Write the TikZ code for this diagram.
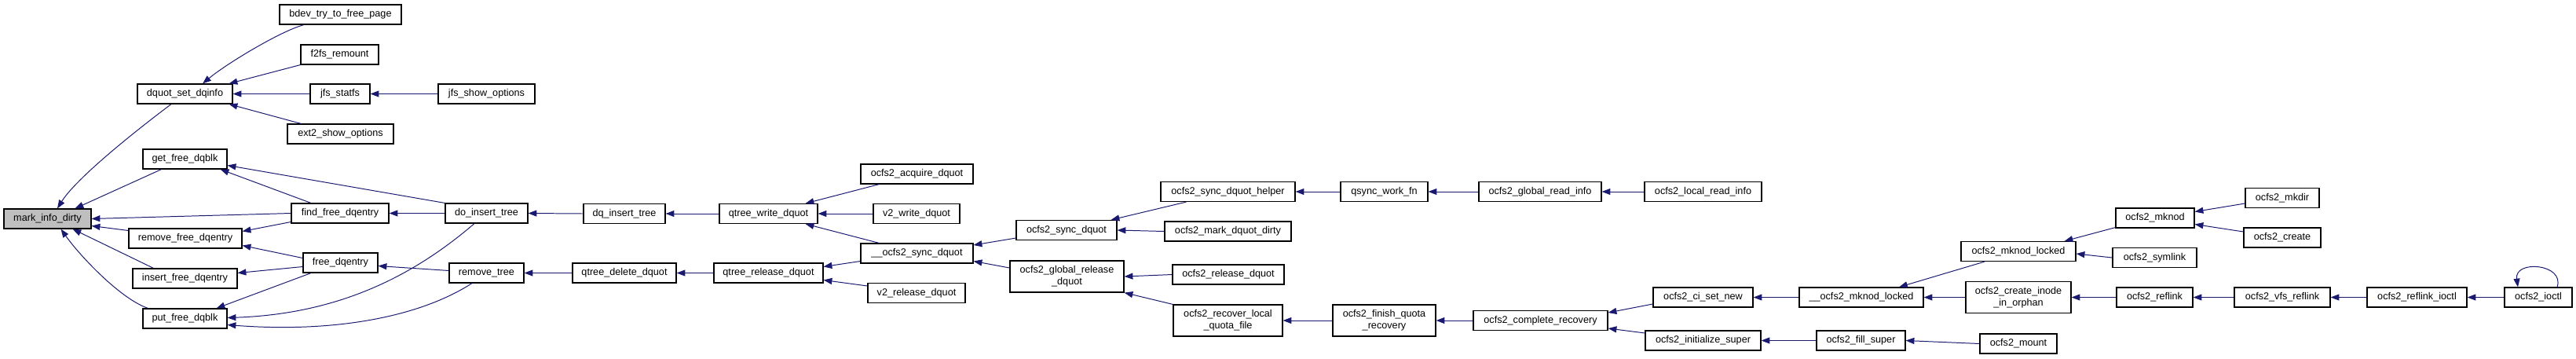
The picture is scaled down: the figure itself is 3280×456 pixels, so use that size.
\documentclass[tikz,border=0pt]{standalone}
\usepackage{fontspec}
\setmainfont{Liberation Sans}
\usepackage{tikz}
\usetikzlibrary{arrows.meta}
\usepackage{xcolor}
\definecolor{edgeblue}{HTML}{191970}
\definecolor{rootgray}{HTML}{BFBFBF}

\begin{document}
\begin{tikzpicture}[x=0.025cm, y=-0.025cm,
  fn/.style={draw=black, fill=white, line width=0.8pt, inner sep=0pt, minimum height=0.625cm, align=center, font=\fontsize{9}{10.6}\selectfont},
  twoline/.style={minimum height=1cm},
  calls/.style={draw=edgeblue, line width=0.7pt, {Triangle[length=0.27cm,width=0.2cm]}-}]
  \useasboundingbox (0,0) rectangle (3280,456);

  % columns, left to right
  \node[fn, fill=rootgray, minimum width=2.775cm] (mark) at (60.5,278.5) {mark\_info\_dirty};

  \node[fn, minimum width=3.025cm] (dqinfo) at (235.5,119.5) {dquot\_set\_dqinfo};
  \node[fn, minimum width=2.675cm] (getblk) at (235.5,202.5) {get\_free\_dqblk};
  \node[fn, minimum width=3.6cm] (rmfree) at (236,303.5) {remove\_free\_dqentry};
  \node[fn, minimum width=3.325cm] (insfree) at (235.5,354.5) {insert\_free\_dqentry};
  \node[fn, minimum width=2.675cm] (putblk) at (235.5,405.5) {put\_free\_dqblk};

  \node[fn, minimum width=3.875cm] (bdev) at (433.5,18.5) {bdev\_try\_to\_free\_page};
  \node[fn, minimum width=2.475cm] (f2fs) at (432.5,69.5) {f2fs\_remount};
  \node[fn, minimum width=1.9cm] (jfsstatfs) at (433,119.5) {jfs\_statfs};
  \node[fn, minimum width=3.375cm] (ext2) at (433.5,170.5) {ext2\_show\_options};
  \node[fn, minimum width=3.1cm] (findfree) at (433,271.5) {find\_free\_dqentry};
  \node[fn, minimum width=2.375cm] (freedq) at (433.5,334.5) {free\_dqentry};

  \node[fn, minimum width=3.075cm] (jfsshow) at (619.5,119.5) {jfs\_show\_options};
  \node[fn, minimum width=2.625cm] (doins) at (619.5,271.5) {do\_insert\_tree};
  \node[fn, minimum width=2.375cm] (rmtree) at (619.5,347.5) {remove\_tree};

  \node[fn, minimum width=2.6cm] (dqins) at (795,272) {dq\_insert\_tree};
  \node[fn, minimum width=3.3cm] (qdel) at (795,347.5) {qtree\_delete\_dquot};

  \node[fn, minimum width=3.125cm] (qwrite) at (978.5,272) {qtree\_write\_dquot};
  \node[fn, minimum width=3.475cm] (qrel) at (978.5,347.5) {qtree\_release\_dquot};

  \node[fn, minimum width=3.575cm] (acquire) at (1167.5,221.5) {ocfs2\_acquire\_dquot};
  \node[fn, minimum width=2.75cm] (v2write) at (1167,272) {v2\_write\_dquot};
  \node[fn, minimum width=3.575cm] (osyncu) at (1167.5,322.5) {\_\_ocfs2\_sync\_dquot};
  \node[fn, minimum width=3.1cm] (v2rel) at (1167,373) {v2\_release\_dquot};

  \node[fn, minimum width=3.2cm] (osync) at (1358,293) {ocfs2\_sync\_dquot};
  \node[fn, twoline, minimum width=3.625cm] (globrel) at (1358.5,352) {ocfs2\_global\_release\\\_dquot};

  \node[fn, minimum width=4.275cm] (helper) at (1563.5,244) {ocfs2\_sync\_dquot\_helper};
  \node[fn, minimum width=4.025cm] (markdirty) at (1563.5,294.5) {ocfs2\_mark\_dquot\_dirty};
  \node[fn, minimum width=3.55cm] (releasedq) at (1564,349.5) {ocfs2\_release\_dquot};
  \node[fn, twoline, minimum width=3.475cm] (recover) at (1563.5,408) {ocfs2\_recover\_local\\\_quota\_file};

  \node[fn, minimum width=2.775cm] (qsync) at (1762.5,244) {qsync\_work\_fn};
  \node[fn, twoline, minimum width=3.275cm] (finish) at (1762.5,408) {ocfs2\_finish\_quota\\\_recovery};

  \node[fn, minimum width=3.9cm] (globread) at (1961,244) {ocfs2\_global\_read\_info};
  \node[fn, minimum width=4.275cm] (complete) at (1961.5,408) {ocfs2\_complete\_recovery};

  \node[fn, minimum width=3.725cm] (localread) at (2168.5,244) {ocfs2\_local\_read\_info};
  \node[fn, minimum width=3.175cm] (cisetnew) at (2168.5,378.5) {ocfs2\_ci\_set\_new};
  \node[fn, minimum width=3.675cm] (initsuper) at (2168.5,433.5) {ocfs2\_initialize\_super};

  \node[fn, minimum width=3.95cm] (mknodlu) at (2370,378.5) {\_\_ocfs2\_mknod\_locked};
  \node[fn, minimum width=2.825cm] (fillsuper) at (2369.5,433.5) {ocfs2\_fill\_super};

  \node[fn, minimum width=3.65cm] (mknodlocked) at (2570,320) {ocfs2\_mknod\_locked};
  \node[fn, twoline, minimum width=3.35cm] (orphan) at (2570,378.5) {ocfs2\_create\_inode\\\_in\_orphan};
  \node[fn, minimum width=2.45cm] (mount) at (2570,437.5) {ocfs2\_mount};

  \node[fn, minimum width=2.5cm] (mknod) at (2744,277.5) {ocfs2\_mknod};
  \node[fn, minimum width=2.675cm] (symlink) at (2743.5,328) {ocfs2\_symlink};
  \node[fn, minimum width=2.425cm] (reflink) at (2743.5,378.5) {ocfs2\_reflink};

  \node[fn, minimum width=2.35cm] (mkdir) at (2906,252) {ocfs2\_mkdir};
  \node[fn, minimum width=2.45cm] (create) at (2906,302.5) {ocfs2\_create};
  \node[fn, minimum width=3.05cm] (vfsreflink) at (2906,378.5) {ocfs2\_vfs\_reflink};

  \node[fn, minimum width=3.175cm] (reflinkioctl) at (3077.5,378.5) {ocfs2\_reflink\_ioctl};
  \node[fn, minimum width=2.15cm] (ioctl) at (3232,378.5) {ocfs2\_ioctl};

  % callers of mark_info_dirty
  \draw[calls] ([shift={(12.5,0)}]mark.north) .. controls +(25,-40) and +(-40,30) .. ([shift={(-17.5,0)}]dqinfo.south);
  \draw[calls] ([shift={(35,0)}]mark.north) -- ([shift={(-30,0)}]getblk.south);
  \draw[calls] (mark.east) -- (findfree.west);
  \draw[calls] ([shift={(0,9)}]mark.east) -- ([shift={(0,-10)}]rmfree.west);
  \draw[calls] ([shift={(32,0)}]mark.south) -- ([shift={(-40,0)}]insfree.north);
  \draw[calls] ([shift={(17,0)}]mark.south) .. controls +(25,35) and +(-35,-12) .. ([shift={(-47,0)}]putblk.north);

  \draw[calls] ([shift={(22.5,0)}]dqinfo.north) .. controls +(30,-25) and +(-30,8) .. ([shift={(-46.5,0)}]bdev.south);
  \draw[calls] ([shift={(-5,0)}]dqinfo.north east) -- (f2fs.south west);
  \draw[calls] (dqinfo.east) -- (jfsstatfs.west);
  \draw[calls] ([shift={(-5,0)}]dqinfo.south east) -- ([shift={(18,0)}]ext2.north west);
  \draw[calls] (jfsstatfs.east) -- (jfsshow.west);

  \draw[calls] ([shift={(0,8)}]getblk.east) -- (doins.north west);
  \draw[calls] ([shift={(-9,0)}]getblk.south east) -- ([shift={(-37,0)}]findfree.north);
  \draw[calls] ([shift={(0,-9)}]rmfree.east) -- ([shift={(0,11)}]findfree.west);
  \draw[calls] ([shift={(0,9)}]rmfree.east) -- ([shift={(0,-6)}]freedq.west);
  \draw[calls] ([shift={(0,-7)}]insfree.east) -- ([shift={(0,5)}]freedq.west);
  \draw[calls] ([shift={(-14,0)}]putblk.north east) -- ([shift={(-37.5,0)}]freedq.south);
  \draw[calls] ([shift={(0,-1)}]putblk.east) .. controls +(150,-5) and +(-70,60) .. ([shift={(-15.5,0)}]doins.south);
  \draw[calls] ([shift={(0,8)}]putblk.east) .. controls +(130,10) and +(-70,45) .. ([shift={(-18.5,0)}]rmtree.south);

  \draw[calls] (findfree.east) -- (doins.west);
  \draw[calls] ([shift={(0,4)}]freedq.east) -- ([shift={(0,-3)}]rmtree.west);
  \draw[calls] (doins.east) -- (dqins.west);
  \draw[calls] (dqins.east) -- (qwrite.west);
  \draw[calls] (rmtree.east) -- (qdel.west);
  \draw[calls] (qdel.east) -- (qrel.west);

  \draw[calls] ([shift={(-16,0)}]qwrite.north east) -- ([shift={(24,0)}]acquire.south west);
  \draw[calls] (qwrite.east) -- (v2write.west);
  \draw[calls] ([shift={(-16,0)}]qwrite.south east) -- ([shift={(24,0)}]osyncu.north west);
  \draw[calls] ([shift={(0,-8)}]qrel.east) -- ([shift={(0,10)}]osyncu.west);
  \draw[calls] ([shift={(0,9)}]qrel.east) -- ([shift={(0,-9)}]v2rel.west);

  \draw[calls] ([shift={(0,-10.5)}]osyncu.east) -- ([shift={(0,10)}]osync.west);
  \draw[calls] ([shift={(0,10)}]osyncu.east) -- ([shift={(0,-11)}]globrel.west);
  \draw[calls] ([shift={(-8,0)}]osync.north east) -- ([shift={(33,0)}]helper.south west);
  \draw[calls] (osync.east) -- (markdirty.west);
  \draw[calls] (globrel.east) -- (releasedq.west);
  \draw[calls] (globrel.south east) -- (recover.north west);

  \draw[calls] (helper.east) -- (qsync.west);
  \draw[calls] (qsync.east) -- (globread.west);
  \draw[calls] (globread.east) -- (localread.west);
  \draw[calls] (recover.east) -- (finish.west);
  \draw[calls] (finish.east) -- (complete.west);
  \draw[calls] ([shift={(0,-10)}]complete.east) -- ([shift={(0,8.5)}]cisetnew.west);
  \draw[calls] ([shift={(0,10)}]complete.east) -- ([shift={(0,-9.5)}]initsuper.west);

  \draw[calls] (cisetnew.east) -- (mknodlu.west);
  \draw[calls] ([shift={(48,0)}]mknodlu.north) -- ([shift={(-43,0)}]mknodlocked.south);
  \draw[calls] (mknodlu.east) -- (orphan.west);
  \draw[calls] (initsuper.east) -- (fillsuper.west);
  \draw[calls] (fillsuper.east) -- (mount.west);

  \draw[calls] ([shift={(-15,0)}]mknodlocked.north east) -- ([shift={(0,-1)}]mknod.south west);
  \draw[calls] ([shift={(0,3)}]mknodlocked.east) -- (symlink.west);
  \draw[calls] (orphan.east) -- (reflink.west);
  \draw[calls] ([shift={(0,-8)}]mknod.east) -- ([shift={(0,7)}]mkdir.west);
  \draw[calls] ([shift={(0,8)}]mknod.east) -- ([shift={(0,-7.5)}]create.west);
  \draw[calls] (reflink.east) -- (vfsreflink.west);
  \draw[calls] (vfsreflink.east) -- (reflinkioctl.west);
  \draw[calls] (reflinkioctl.east) -- (ioctl.west);
  \draw[calls] ([shift={(-26,0)}]ioctl.north) .. controls +(-5,-35) and +(10,-30) .. ([shift={(24,0)}]ioctl.north);
\end{tikzpicture}
\end{document}
